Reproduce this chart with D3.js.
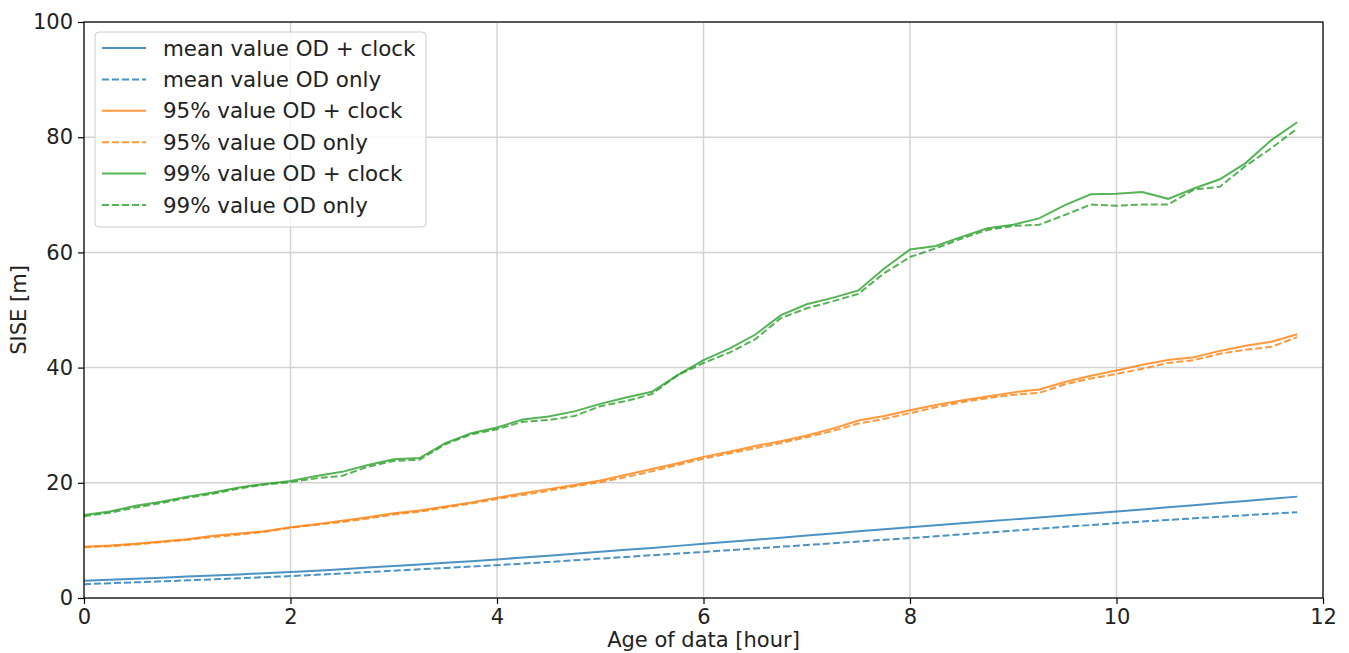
<!DOCTYPE html>
<html>
<head>
<meta charset="utf-8">
<script src="https://cdn.jsdelivr.net/npm/d3@7"></script>
<style>
    body { margin: 0; background: #fff; }
    text { font-family: "DejaVu Sans", sans-serif; fill: #222; }
</style>
</head>
<body>
<svg id="chart" width="1349" height="653"></svg>
<script>
// x values: age of data in hours, every quarter hour
const hours = [
    0, 0.25, 0.5, 0.75, 1, 1.25, 1.5, 1.75, 2, 2.25, 2.5, 2.75,
    3, 3.25, 3.5, 3.75, 4, 4.25, 4.5, 4.75, 5, 5.25, 5.5, 5.75,
    6, 6.25, 6.5, 6.75, 7, 7.25, 7.5, 7.75, 8, 8.25, 8.5, 8.75,
    9, 9.25, 9.5, 9.75, 10, 10.25, 10.5, 10.75, 11, 11.25, 11.5, 11.75
];

const meanClock = [
    3.00, 3.17, 3.35, 3.53, 3.72, 3.91, 4.10, 4.30, 4.50, 4.75, 5.01, 5.28,
    5.55, 5.83, 6.11, 6.40, 6.70, 7.02, 7.35, 7.68, 8.02, 8.36, 8.70, 9.05,
    9.40, 9.76, 10.12, 10.48, 10.84, 11.20, 11.57, 11.94, 12.30, 12.64, 12.98, 13.31,
    13.65, 13.98, 14.32, 14.66, 15.00, 15.37, 15.74, 16.11, 16.48, 16.85, 17.22, 17.60
];
const meanOnly = [
    2.40, 2.56, 2.72, 2.89, 3.06, 3.24, 3.42, 3.61, 3.80, 4.03, 4.26, 4.50,
    4.74, 4.98, 5.22, 5.46, 5.70, 5.98, 6.26, 6.55, 6.84, 7.13, 7.42, 7.71,
    8.00, 8.30, 8.60, 8.90, 9.20, 9.50, 9.80, 10.10, 10.40, 10.72, 11.04, 11.37,
    11.69, 12.02, 12.35, 12.67, 13.00, 13.28, 13.56, 13.83, 14.10, 14.37, 14.64, 14.90
];
const p95Clock = [
    8.9, 9.1, 9.4, 9.8, 10.2, 10.8, 11.2, 11.6, 12.3, 12.8, 13.4, 14.0,
    14.7, 15.2, 15.9, 16.6, 17.4, 18.2, 18.9, 19.6, 20.4, 21.4, 22.4, 23.4,
    24.5, 25.4, 26.4, 27.2, 28.2, 29.4, 30.8, 31.6, 32.6, 33.5, 34.3, 35.0,
    35.7, 36.2, 37.5, 38.6, 39.5, 40.5, 41.3, 41.8, 42.9, 43.8, 44.5, 45.8
];
const p95Only = [
    8.8, 9.0, 9.3, 9.7, 10.1, 10.6, 11.0, 11.5, 12.2, 12.7, 13.2, 13.8,
    14.5, 15.0, 15.7, 16.4, 17.2, 17.9, 18.6, 19.4, 20.1, 21.0, 22.0, 23.1,
    24.2, 25.1, 26.0, 26.9, 27.9, 29.0, 30.3, 31.1, 32.1, 33.1, 34.0, 34.7,
    35.3, 35.6, 37.1, 38.1, 38.9, 39.8, 40.8, 41.3, 42.4, 43.1, 43.6, 45.3
];
const p99Clock = [
    14.4, 15.0, 16.0, 16.7, 17.6, 18.3, 19.2, 19.8, 20.3, 21.2, 21.9, 23.1,
    24.1, 24.3, 26.9, 28.6, 29.6, 31.0, 31.5, 32.4, 33.7, 34.8, 35.8, 38.7,
    41.3, 43.3, 45.7, 49.1, 51.0, 52.1, 53.4, 57.2, 60.5, 61.1, 62.7, 64.2,
    64.8, 65.9, 68.2, 70.1, 70.2, 70.5, 69.3, 71.1, 72.7, 75.5, 79.5, 82.6
];
const p99Only = [
    14.2, 14.8, 15.7, 16.5, 17.4, 18.1, 19.0, 19.7, 20.1, 20.8, 21.2, 22.8,
    23.8, 24.0, 26.7, 28.4, 29.3, 30.6, 30.9, 31.6, 33.3, 34.2, 35.4, 38.7,
    40.8, 42.6, 44.9, 48.6, 50.3, 51.5, 52.8, 56.4, 59.2, 60.7, 62.4, 63.9,
    64.6, 64.8, 66.5, 68.3, 68.1, 68.3, 68.3, 70.9, 71.4, 75.0, 78.1, 81.5
];

const xTicks = [0, 2, 4, 6, 8, 10, 12];
const yTicks = [0, 20, 40, 60, 80, 100];

const series = [
    { name: "mean value OD + clock", values: meanClock, color: "#1f77b4", dashed: false },
    { name: "mean value OD only", values: meanOnly, color: "#1f77b4", dashed: true },
    { name: "95% value OD + clock", values: p95Clock, color: "#ff7f0e", dashed: false },
    { name: "95% value OD only", values: p95Only, color: "#ff7f0e", dashed: true },
    { name: "99% value OD + clock", values: p99Clock, color: "#2ca02c", dashed: false },
    { name: "99% value OD only", values: p99Only, color: "#2ca02c", dashed: true }
];

const plotLeft = 84, plotRight = 1323, plotTop = 22, plotBottom = 598;
const svg = d3.select("#chart");

const xScale = d3.scaleLinear().domain([0, 12]).range([plotLeft, plotRight]);
const yScale = d3.scaleLinear().domain([0, 100]).range([plotBottom, plotTop]);

// grid
svg.append("g")
    .selectAll("line")
    .data(xTicks)
    .join("line")
    .attr("x1", d => xScale(d)).attr("x2", d => xScale(d))
    .attr("y1", plotTop).attr("y2", plotBottom)
    .attr("stroke", "#d3d3d3").attr("stroke-width", 1.5);
svg.append("g")
    .selectAll("line")
    .data(yTicks)
    .join("line")
    .attr("x1", plotLeft).attr("x2", plotRight)
    .attr("y1", d => yScale(d)).attr("y2", d => yScale(d))
    .attr("stroke", "#d3d3d3").attr("stroke-width", 1.5);

// lines
const line = d3.line()
    .x((d, i) => xScale(hours[i]))
    .y(d => yScale(d));

svg.append("g")
    .selectAll("path")
    .data(series)
    .join("path")
    .attr("d", d => line(d.values))
    .attr("fill", "none")
    .attr("stroke", d => d.color)
    .attr("stroke-opacity", 0.8)
    .attr("stroke-width", 2)
    .attr("stroke-dasharray", d => d.dashed ? "7,3" : null);

// axes
const xAxis = svg.append("g")
    .attr("transform", `translate(0, ${plotBottom})`)
    .call(d3.axisBottom(xScale).tickValues(xTicks).tickSize(6).tickPadding(5));
const yAxis = svg.append("g")
    .attr("transform", `translate(${plotLeft}, 0)`)
    .call(d3.axisLeft(yScale).tickValues(yTicks).tickSize(6).tickPadding(5));

[xAxis, yAxis].forEach(function (ax) {
    ax.select(".domain").remove();
    ax.selectAll("line").attr("stroke", "#000").attr("stroke-width", 1.2);
    ax.selectAll("text")
        .style("font-family", "DejaVu Sans")
        .style("font-size", "21px")
        .attr("fill", "#222");
});

// frame
svg.append("rect")
    .attr("x", plotLeft).attr("y", plotTop)
    .attr("width", plotRight - plotLeft).attr("height", plotBottom - plotTop)
    .attr("fill", "none").attr("stroke", "#000").attr("stroke-width", 1.2);

// axis labels
svg.append("text")
    .attr("x", (plotLeft + plotRight) / 2).attr("y", 647)
    .attr("text-anchor", "middle")
    .style("font-size", "21px")
    .text("Age of data [hour]");
svg.append("text")
    .attr("transform", `translate(26, ${(plotTop + plotBottom) / 2}) rotate(-90)`)
    .attr("text-anchor", "middle")
    .style("font-size", "21px")
    .text("SISE [m]");

// legend
const legend = svg.append("g");
legend.append("rect")
    .attr("x", 95).attr("y", 32)
    .attr("width", 331).attr("height", 195)
    .attr("rx", 4)
    .attr("fill", "#fff").attr("fill-opacity", 0.8)
    .attr("stroke", "#ccc");

const rows = legend.selectAll("g")
    .data(series)
    .join("g")
    .attr("transform", (d, i) => `translate(0, ${48 + i * 31.4})`);
rows.append("line")
    .attr("x1", 102).attr("x2", 146)
    .attr("stroke", d => d.color)
    .attr("stroke-opacity", 0.8)
    .attr("stroke-width", 2)
    .attr("stroke-dasharray", d => d.dashed ? "7,3" : null);
rows.append("text")
    .attr("x", 163).attr("y", 7.5)
    .style("font-size", "21.4px")
    .text(d => d.name);
</script>
</body>
</html>
